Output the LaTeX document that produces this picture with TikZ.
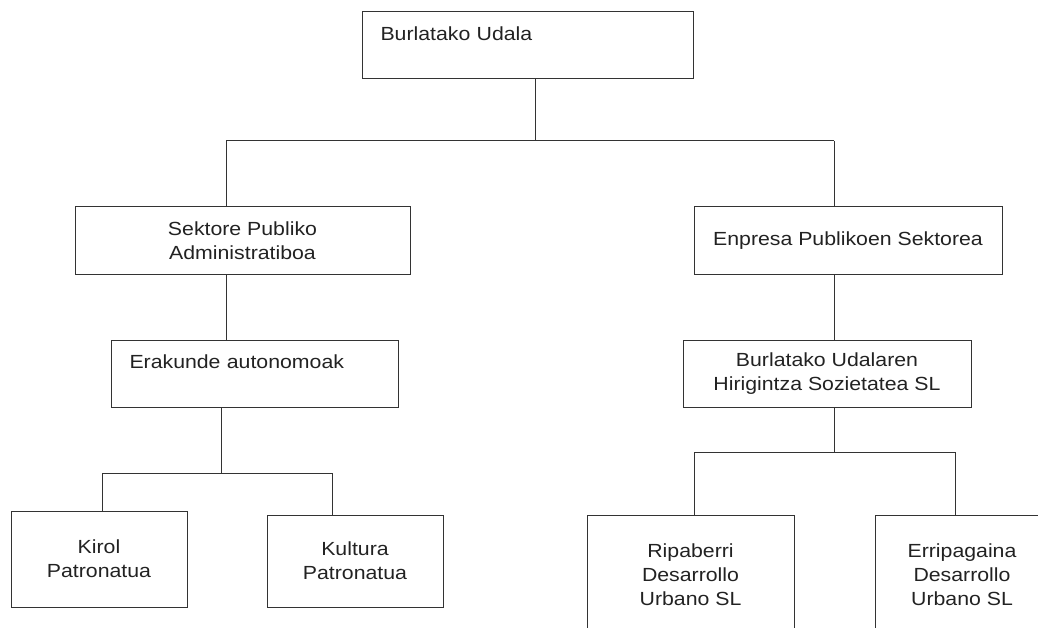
\documentclass[tikz,border=0pt]{standalone}
\usepackage{fontspec}
\setmainfont{Liberation Sans}[FakeStretch=1.12]
\definecolor{boxline}{HTML}{333333}
\definecolor{txtgray}{HTML}{222222}
\tikzset{
  orgbox/.style={draw=boxline, line width=1pt, rectangle, inner sep=0pt,
    align=center, minimum height=67pt, text=txtgray},
  topleft/.style={anchor=north west, align=left, inner xsep=18pt,
    text height=13pt},
  orgline/.style={draw=boxline, line width=1pt}
}
\begin{document}
\begin{tikzpicture}[x=1pt, y=-1pt, font=\fontsize{19}{24}\selectfont]
  \useasboundingbox (0,0) rectangle (1038,628);
  \clip (0,0) rectangle (1038,628);
  \node[orgbox, topleft, text width=295pt, inner ysep=16pt, text depth=22pt]
    (udala) at (362,11) {Burlatako Udala};
  \node[orgbox, minimum width=335pt] (sektore) at (242.5,240.5)
    {Sektore Publiko\\Administratiboa};
  \node[orgbox, minimum width=308pt] (enpresa) at (848,240.5)
    {Enpresa Publikoen Sektorea};
  \node[orgbox, topleft, text width=251pt, inner ysep=15pt, text depth=24pt]
    (erakunde) at (111,340) {Erakunde autonomoak};
  \node[orgbox, minimum width=288pt] (hirigintza) at (827,373.5)
    {Burlatako Udalaren\\Hirigintza Sozietatea SL};
  \node[orgbox, minimum width=176pt, minimum height=96pt] (kirol) at (99,559)
    {Kirol\\Patronatua};
  \node[orgbox, minimum width=176pt, minimum height=92pt] (kultura) at (355,561)
    {Kultura\\Patronatua};
  \node[orgbox, minimum width=207pt, minimum height=120pt] (ripaberri) at (690.5,575)
    {Ripaberri\\Desarrollo\\Urbano SL};
  \node[orgbox, minimum width=174pt, minimum height=120pt] (erripagaina) at (962,575)
    {Erripagaina\\Desarrollo\\Urbano SL};
  \coordinate (busA) at (535,141);
  \coordinate (busAL) at (226,141);
  \coordinate (busAR) at (834,141);
  \coordinate (busB) at (221,473);
  \coordinate (busBL) at (102,473);
  \coordinate (busBR) at (332,473);
  \coordinate (busC) at (834,452);
  \coordinate (busCL) at (694,452);
  \coordinate (busCR) at (955,452);
  \begin{scope}[orgline]
    \draw (udala.south -| busA) -- (busA);
    \draw (busAL) -- (busAR);
    \draw (busAL) -- (busAL |- sektore.north);
    \draw (busAR) -- (busAR |- enpresa.north);
    \draw (sektore.south -| busAL) -- (erakunde.north -| busAL);
    \draw (enpresa.south -| busAR) -- (hirigintza.north -| busAR);
    \draw (erakunde.south -| busB) -- (busB);
    \draw (busBL) -- (busBR);
    \draw (busBL) -- (busBL |- kirol.north);
    \draw (busBR) -- (busBR |- kultura.north);
    \draw (hirigintza.south -| busC) -- (busC);
    \draw (busCL) -- (busCR);
    \draw (busCL) -- (busCL |- ripaberri.north);
    \draw (busCR) -- (busCR |- erripagaina.north);
  \end{scope}
\end{tikzpicture}
\end{document}
